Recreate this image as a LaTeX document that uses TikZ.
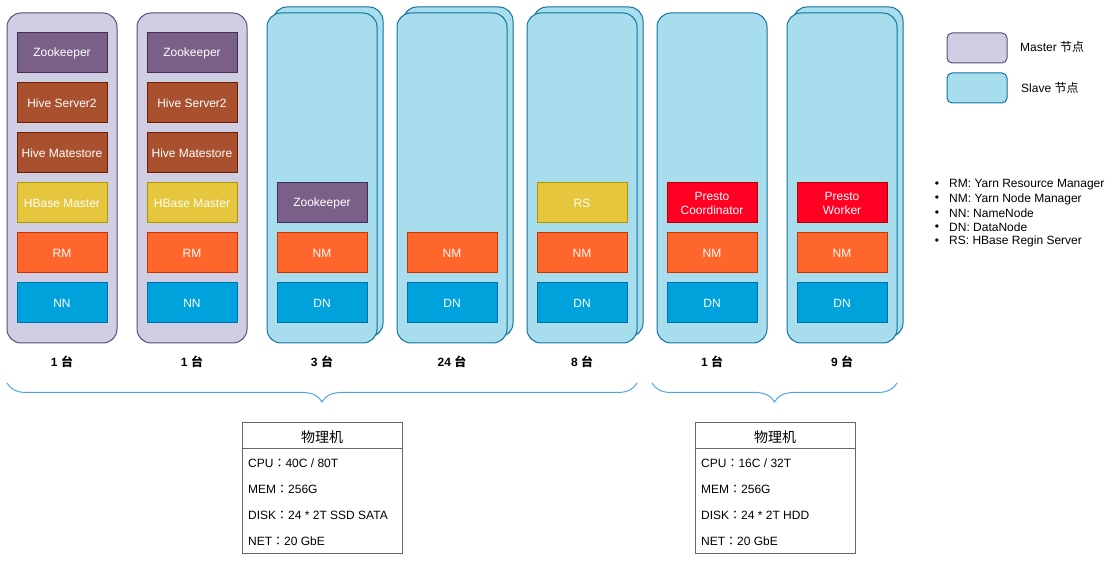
\documentclass[tikz,border=0pt]{standalone}
\usepackage{fontspec}
\setmainfont{Liberation Sans}
\newfontfamily\cjk{Noto Sans CJK SC}
\newfontfamily\cjkpunct{Noto Sans CJK TC}
\newcommand{\fwcolon}{{\cjkpunct ：}}
\usepackage{xcolor}
\usetikzlibrary{positioning, decorations.pathreplacing}

\definecolor{masterfill}{HTML}{D0CEE2}
\definecolor{masterline}{HTML}{56517E}
\definecolor{slavefill}{HTML}{A8DDED}
\definecolor{slaveline}{HTML}{10739E}
\definecolor{zkfill}{HTML}{7A6089}
\definecolor{zkline}{HTML}{432D57}
\definecolor{hivefill}{HTML}{A9512F}
\definecolor{hiveline}{HTML}{6D1F00}
\definecolor{hbfill}{HTML}{E6C63C}
\definecolor{hbline}{HTML}{B09500}
\definecolor{yarnfill}{HTML}{FF662B}
\definecolor{yarnline}{HTML}{C73500}
\definecolor{hdfsfill}{HTML}{00A2DB}
\definecolor{hdfsline}{HTML}{006EAF}
\definecolor{prestofill}{HTML}{FF0022}
\definecolor{prestoline}{HTML}{B20000}
\definecolor{bracecol}{HTML}{4FA3E6}
\definecolor{specline}{HTML}{666666}

\tikzset{
  master/.style={draw=masterline, fill=masterfill, line width=1pt, rounded corners=14pt, minimum width=110pt, minimum height=330pt},
  slave/.style={draw=slaveline, fill=slavefill, line width=1pt, rounded corners=14pt, minimum width=110pt, minimum height=330pt},
  svc/.style={draw, line width=1pt, minimum width=90pt, minimum height=40pt, inner sep=0pt, align=center, text=white, font=\fontsize{12}{14}\selectfont},
  zk/.style={svc, fill=zkfill, draw=zkline},
  hive/.style={svc, fill=hivefill, draw=hiveline},
  hbase/.style={svc, fill=hbfill, draw=hbline},
  yarn/.style={svc, fill=yarnfill, draw=yarnline},
  hdfs/.style={svc, fill=hdfsfill, draw=hdfsline},
  presto/.style={svc, fill=prestofill, draw=prestoline},
  count/.style={font=\fontsize{12}{14}\selectfont\bfseries, inner sep=0pt},
  brace/.style={draw=bracecol, line width=1pt, decorate, decoration={brace, mirror, amplitude=19pt}},
  spec/.style={draw=specline, line width=1pt, minimum width=160pt, minimum height=130pt},
  row/.style={anchor=west, inner sep=0pt, font=\fontsize{12}{14}\selectfont},
  legend/.style={anchor=west, inner sep=0pt, font=\fontsize{12}{14}\selectfont},
}

\begin{document}
\begin{tikzpicture}[x=1pt, y=-1pt]
  \useasboundingbox (0, 0) rectangle (1112, 561);

  % machines
  \node[master] (m1) at (62, 178) {};
  \node[master] (m2) at (192, 178) {};
  \node[slave] (s1b) at (328, 172) {};
  \node[slave] (s1) at (322, 178) {};
  \node[slave] (s2b) at (458, 172) {};
  \node[slave] (s2) at (452, 178) {};
  \node[slave] (s3b) at (588, 172) {};
  \node[slave] (s3) at (582, 178) {};
  \node[slave] (p1) at (712, 178) {};
  \node[slave] (p2b) at (848, 172) {};
  \node[slave] (p2) at (842, 178) {};

  % services on the masters
  \foreach \c/\x in {m1/62, m2/192} {
    \node[zk] (\c-zk) at (\x, 53) {Zookeeper};
    \node[hive] (\c-hs) at (\x, 103) {Hive Server2};
    \node[hive] (\c-hm) at (\x, 153) {Hive Matestore};
    \node[hbase] (\c-hb) at (\x, 203) {HBase Master};
    \node[yarn] (\c-rm) at (\x, 253) {RM};
    \node[hdfs] (\c-nn) at (\x, 303) {NN};
  }

  % services on the slaves
  \foreach \c/\x in {s1/322, s2/452, s3/582, p1/712, p2/842} {
    \node[yarn] (\c-nm) at (\x, 253) {NM};
    \node[hdfs] (\c-dn) at (\x, 303) {DN};
  }
  \node[zk] (s1-zk) at (322, 203) {Zookeeper};
  \node[hbase] (s3-rs) at (582, 203) {RS};
  \node[presto] (p1-pc) at (712, 203) {Presto\\Coordinator};
  \node[presto] (p2-pw) at (842, 203) {Presto\\Worker};

  % counts
  \node[count] (n1) at (62, 362) {1 {\cjk 台}};
  \node[count] (n2) at (192, 362) {1 {\cjk 台}};
  \node[count] (n3) at (322, 362) {3 {\cjk 台}};
  \node[count] (n4) at (452, 362) {24 {\cjk 台}};
  \node[count] (n5) at (582, 362) {8 {\cjk 台}};
  \node[count] (n6) at (712, 362) {1 {\cjk 台}};
  \node[count] (n7) at (842, 362) {9 {\cjk 台}};

  % braces
  \coordinate (b1l) at (7, 383);
  \coordinate (b1r) at (637, 383);
  \coordinate (b2l) at (652, 383);
  \coordinate (b2r) at (897, 383);
  \draw[brace] (b1l) -- (b1r);
  \draw[brace] (b2l) -- (b2r);

  % hardware
  \node[spec] (t1) at (322, 488) {};
  \draw[specline, line width=1pt] ([yshift=-26pt]t1.north west) -- ([yshift=-26pt]t1.north east);
  \node[font=\fontsize{14}{16}\selectfont\cjk, inner sep=0pt] (t1h) at (322, 437) {物理机};
  \node[row] (t1cpu) at (248, 463) {CPU\fwcolon 40C / 80T};
  \node[row] (t1mem) at (248, 489) {MEM\fwcolon 256G};
  \node[row] (t1disk) at (248, 515) {DISK\fwcolon 24 * 2T SSD SATA};
  \node[row] (t1net) at (248, 541) {NET\fwcolon 20 GbE};

  \node[spec] (t2) at (775, 488) {};
  \draw[specline, line width=1pt] ([yshift=-26pt]t2.north west) -- ([yshift=-26pt]t2.north east);
  \node[font=\fontsize{14}{16}\selectfont\cjk, inner sep=0pt] (t2h) at (775, 437) {物理机};
  \node[row] (t2cpu) at (701, 463) {CPU\fwcolon 16C / 32T};
  \node[row] (t2mem) at (701, 489) {MEM\fwcolon 256G};
  \node[row] (t2disk) at (701, 515) {DISK\fwcolon 24 * 2T HDD};
  \node[row] (t2net) at (701, 541) {NET\fwcolon 20 GbE};

  % legend
  \node[master, minimum width=60pt, minimum height=30pt, rounded corners=5pt] (lm) at (977, 48) {};
  \node[slave, minimum width=60pt, minimum height=30pt, rounded corners=5pt] (ls) at (977, 88) {};
  \node[legend] (lmt) at (1020, 47) {Master {\cjk 节点}};
  \node[legend] (lst) at (1021, 88) {Slave {\cjk 节点}};

  % abbreviations
  \foreach \t [count=\i] in {RM: Yarn Resource Manager, NM: Yarn Node Manager, NN: NameNode, DN: DataNode, RS: HBase Regin Server} {
    \node[legend, anchor=center] (d\i) at (937, 170.5+14.25*\i) {\textbullet};
    \node[legend] (k\i) at (949, 170.5+14.25*\i) {\t};
  }
\end{tikzpicture}
\end{document}
